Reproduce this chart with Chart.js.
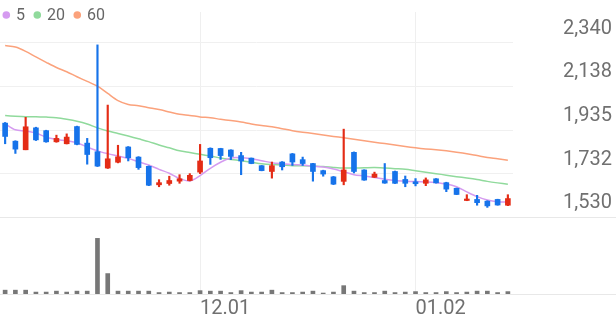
<!DOCTYPE html>
<html><head><meta charset="utf-8">
<script src="https://cdn.jsdelivr.net/npm/chart.js@4.4.1/dist/chart.umd.min.js"></script>
<style>html,body{margin:0;padding:0;background:#fff;overflow:hidden}#c{display:block}</style>
</head><body><canvas id="c" width="616" height="321"></canvas>
<script>
const dates = ['11.04','11.05','11.06','11.07','11.10','11.11','11.12','11.13','11.14','11.17',
'11.18','11.19','11.20','11.21','11.24','11.25','11.26','11.27','11.28','12.01',
'12.02','12.03','12.04','12.05','12.08','12.09','12.10','12.11','12.12','12.15',
'12.16','12.17','12.18','12.19','12.22','12.23','12.24','12.26','12.29','12.30',
'01.02','01.05','01.06','01.07','01.08','01.09','01.12','01.13','01.14','01.15'];
const xTickLabels = ['12.01','01.02'];
const opens  = [1967,1883,1843,1945,1932,1880,1871,1951,1874,1834,1758,1785,1856,1809,1766,1680,1686,1697,1700,1739,1850,1849,1842,1816,1804,1769,1742,1786,1824,1797,1779,1746,1717,1696,1831,1749,1715,1700,1742,1705,1694,1687,1708,1690,1664,1607,1612,1604,1612,1585];
const highs  = [1970,1885,1994,1948,1934,1911,1917,1953,1896,2331,2051,1864,1858,1811,1768,1704,1720,1727,1732,1868,1852,1850,1843,1831,1805,1770,1786,1788,1826,1809,1780,1748,1719,1939,1833,1750,1739,1779,1744,1721,1709,1712,1709,1692,1665,1634,1631,1606,1613,1634];
const lows   = [1871,1826,1843,1886,1878,1878,1870,1866,1776,1765,1756,1782,1791,1752,1676,1671,1678,1687,1698,1732,1775,1798,1797,1727,1778,1745,1711,1749,1770,1770,1697,1720,1681,1680,1735,1701,1714,1687,1686,1671,1675,1676,1688,1648,1634,1606,1585,1575,1585,1583];
const closes = [1905,1846,1950,1889,1880,1896,1902,1868,1821,1767,1801,1810,1806,1760,1678,1690,1700,1708,1724,1791,1806,1816,1812,1791,1779,1746,1769,1764,1786,1779,1742,1730,1683,1749,1742,1702,1730,1688,1687,1687,1685,1703,1689,1660,1635,1609,1597,1582,1586,1616];
const volumes = [200,200,200,100,100,150,100,150,150,2900,1065,150,150,150,150,75,100,75,75,175,150,150,75,175,100,100,200,75,75,100,150,50,100,435,150,75,75,150,75,100,125,75,75,125,75,100,150,150,75,125];
const ma5  = [1964,1936,1930,1921,1901,1891,1885,1876,1856,1838,1825,1814,1803,1787,1772,1752,1734,1709,1698,1723,1757,1785,1805,1806,1801,1792,1783,1778,1774,1772,1767,1763,1754,1741,1727,1721,1714,1706,1700,1697,1695,1693,1690,1684,1671,1647,1625,1609,1601,1600];
const ma20 = [2002,1999,1997,1997,1995,1992,1985,1976,1963,1945,1930,1919,1907,1894,1881,1865,1852,1838,1830,1822,1814,1805,1798,1792,1785,1778,1774,1772,1769,1769,1767,1765,1761,1758,1758,1759,1760,1758,1755,1752,1745,1738,1732,1725,1718,1712,1705,1696,1689,1683];
const ma60 = [2328,2321,2301,2275,2250,2226,2206,2183,2161,2139,2105,2072,2054,2048,2039,2030,2019,2008,2003,1996,1992,1985,1979,1972,1963,1956,1950,1941,1932,1925,1919,1912,1905,1899,1892,1885,1878,1872,1865,1858,1852,1847,1843,1838,1832,1825,1816,1807,1801,1794];
const maLabels = ['5','20','60'];
const maColors = ['#d59bf0','#90da9c','#fba27c'];
const priceTicks = [1530,1732.5,1935,2137.5,2340];
const priceTickLabels = ['1,530','1,732','1,935','2,138','2,340'];

const UP = '#e42c16', DOWN = '#1673ea';
const candleColors = opens.map((o,i)=> closes[i] >= o ? UP : DOWN);

const fullLines = {
  id:'fullLines',
  beforeDatasetsDraw(chart){
    const ctx = chart.ctx;
    const ys = [chart.scales.y.getPixelForValue(priceTicks[0]), chart.chartArea.bottom];
    ctx.save();
    ctx.strokeStyle = '#e8e8e8'; ctx.lineWidth = 1;
    ys.forEach(y=>{ const yy = Math.round(y)+0.5; ctx.beginPath(); ctx.moveTo(0,yy); ctx.lineTo(chart.width,yy); ctx.stroke(); });
    ctx.restore();
  }
};

const inlineLegend = {
  id:'inlineLegend',
  afterDraw(chart){
    const ctx = chart.ctx;
    ctx.save();
    ctx.font = '16px Roboto';
    ctx.textBaseline = 'middle';
    ctx.textAlign = 'left';
    let x = 2.5; const y = 15;
    maLabels.forEach((lab,i)=>{
      ctx.fillStyle = maColors[i];
      ctx.beginPath(); ctx.arc(x+3.8, y, 3.8, 0, Math.PI*2); ctx.fill();
      ctx.fillStyle = '#666';
      const tx = x + 13.5;
      ctx.fillText(lab, tx, y+0.5);
      x = tx + ctx.measureText(lab).width + 8.5;
    });
    ctx.restore();
  }
};

new Chart(document.getElementById('c'), {
  data:{
    labels: dates,
    datasets:[
      {type:'line', label:maLabels[0], data:ma5, borderColor:maColors[0], borderWidth:1.5, pointRadius:0, tension:0.3, order:5, yAxisID:'y'},
      {type:'line', label:maLabels[1], data:ma20, borderColor:maColors[1], borderWidth:1.5, pointRadius:0, tension:0.3, order:6, yAxisID:'y'},
      {type:'line', label:maLabels[2], data:ma60, borderColor:maColors[2], borderWidth:1.5, pointRadius:0, tension:0.3, order:7, yAxisID:'y'},
      {type:'bar', label:'wick', data:lows.map((l,i)=>[l,highs[i]]), backgroundColor:candleColors, barThickness:1.5, grouped:false, order:2, yAxisID:'y'},
      {type:'bar', label:'body', data:opens.map((o,i)=>[o,closes[i]]), backgroundColor:candleColors, barThickness:5, minBarLength:1.5, grouped:false, order:1, yAxisID:'y'},
      {type:'bar', label:'volume', data:volumes, backgroundColor:'#777777', barThickness:4, grouped:false, order:3, yAxisID:'yVol'}
    ]
  },
  options:{
    responsive:false, animation:false, devicePixelRatio:1,
    layout:{padding:{left:0,right:4,top:0,bottom:0}},
    plugins:{ legend:{display:false}, tooltip:{enabled:false} },
    scales:{
      x:{type:'category', offset:true,
        grid:{offset:false, drawTicks:false, color:(c)=> xTickLabels.includes(dates[c.index]) ? '#efefef' : 'rgba(0,0,0,0)'},
        border:{display:false},
        ticks:{autoSkip:false, maxRotation:0, padding:3, labelOffset:25, color:'#707070', font:{family:'Roboto', size:20},
          callback:(v,i)=> xTickLabels.includes(dates[i]) ? dates[i] : ''},
        afterFit:(s)=>{ s.height = 27; }
      },
      y:{position:'right', min:1172, max:2484,
        afterBuildTicks:(s)=>{ s.ticks = priceTicks.map(v=>({value:v})); },
        grid:{color:'#f0f0f0', drawTicks:false}, border:{display:false},
        ticks:{crossAlign:'far', padding:0, labelOffset:-14, color:'#707070', font:{family:'Roboto', size:20},
          callback:(v,i)=> priceTickLabels[i]},
        afterFit:(s)=>{ s.width = 99; }
      },
      yVol:{display:false, min:0, max:14700}
    }
  },
  plugins:[fullLines, inlineLegend]
});
</script></body></html>
